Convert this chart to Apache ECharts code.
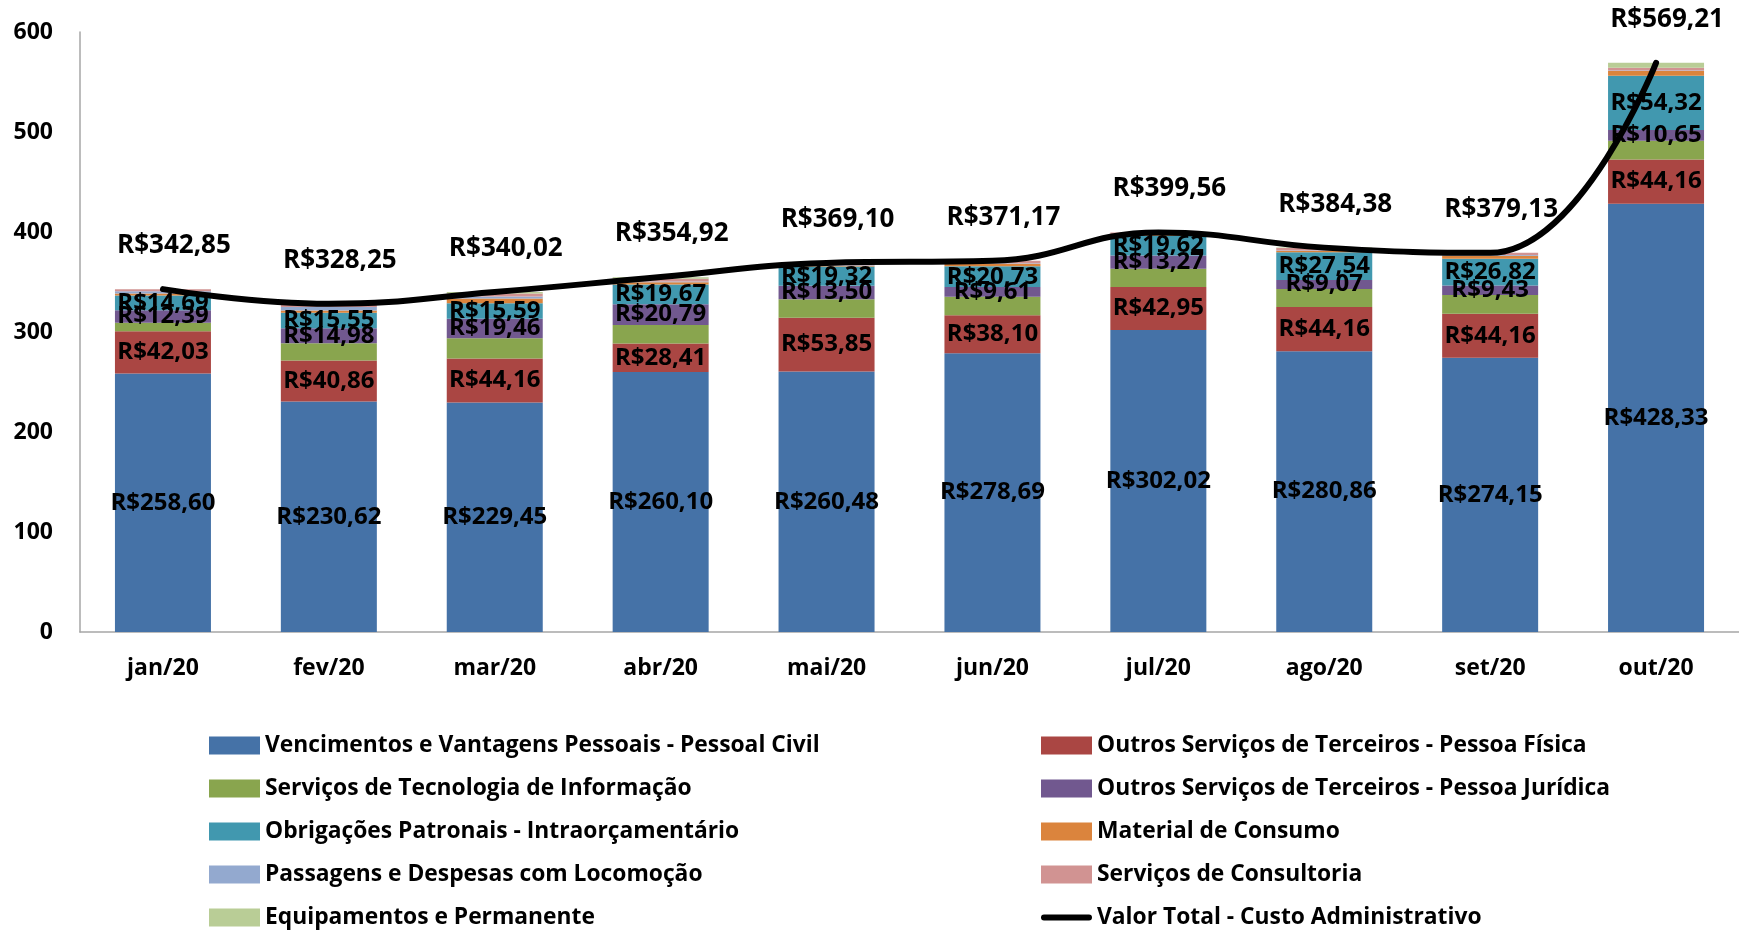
<!DOCTYPE html>
<html>
<head>
<meta charset="utf-8">
<script src="https://cdn.jsdelivr.net/npm/echarts@6/dist/echarts.min.js"></script>
<style>
  html, body { margin: 0; padding: 0; background: #fff; }
  #chart { width: 1739px; height: 932px; }
</style>
</head>
<body>
<div id="chart"></div>
<script>
const months = ['jan/20', 'fev/20', 'mar/20', 'abr/20', 'mai/20', 'jun/20', 'jul/20', 'ago/20', 'set/20', 'out/20']
const vencimentos = [258.60, 230.62, 229.45, 260.10, 260.48, 278.69, 302.02, 280.86, 274.15, 428.33]
const pessoaFisica = [42.03, 40.86, 44.16, 28.41, 53.85, 38.10, 42.95, 44.16, 44.16, 44.16]
const tecnologia = [8.7, 17.2, 20.1, 18.5, 18.4, 18.5, 18.3, 18.0, 18.7, 18.8]
const pessoaJuridica = [12.39, 14.98, 19.46, 20.79, 13.50, 9.61, 13.27, 9.07, 9.43, 10.65]
const obrigacoes = [14.69, 15.55, 15.59, 19.67, 19.32, 20.73, 19.62, 27.54, 26.82, 54.32]
const material = [2.0, 2.3, 4.7, 2.3, 0.8, 2.7, 0.8, 1.3, 3.0, 4.7]
const passagens = [2.4, 3.5, 2.0, 0.8, 0.5, 0.3, 0.3, 0.5, 0.7, 0.5]
const consultoria = [2.0, 2.5, 3.0, 2.6, 1.8, 2.5, 2.3, 2.5, 2.2, 2.7]
const equipamentos = [0.0, 0.7, 1.5, 1.7, 0.5, 0.0, 0.0, 0.5, 0.0, 5.0]
const valorTotal = [342.85, 328.25, 340.02, 354.92, 369.10, 371.17, 399.56, 384.38, 379.13, 569.21]
const yTicks = [0, 100, 200, 300, 400, 500, 600]

const font = 'Open Sans'
const money = v => 'R$' + Number(v).toFixed(2).replace('.', ',')

// label dentro das barras
const inLabel = {
  show: true,
  position: 'inside',
  color: '#000',
  fontFamily: font,
  fontWeight: 'bold',
  fontSize: 24,
  formatter: p => money(p.value)
}

function barSerie (name, data, color, withLabel) {
  return {
    name: name,
    type: 'bar',
    stack: 'total',
    barWidth: 96,
    data: data,
    itemStyle: { color: color },
    label: withLabel ? inLabel : { show: false },
    emphasis: { disabled: true }
  }
}

// traço grosso com pontas redondas (ícone da linha na legenda)
const lineIcon = 'path://M0,0h0.01v0.01h-0.01z M3,6 h45 a3,3 0 0 1 0,6 h-45 a3,3 0 0 1 0,-6 z M0,17.99h0.01v0.01h-0.01z'

const chart = echarts.init(document.getElementById('chart'))
const legendText = { fontFamily: font, fontWeight: 'bold', fontSize: 22.8, color: '#000' }
const legendBase = {
  orient: 'vertical',
  top: 734,
  height: 400,
  padding: 0,
  itemWidth: 51,
  itemHeight: 18,
  itemGap: 20,
  icon: 'rect',
  textStyle: legendText
}

const option = {
  animation: false,
  grid: { left: 80, right: -6, top: 32, bottom: 300 },
  legend: [
    Object.assign({}, legendBase, {
      left: 209,
      data: [
        'Vencimentos e Vantagens Pessoais - Pessoal Civil',
        'Serviços de Tecnologia de Informação',
        'Obrigações Patronais - Intraorçamentário',
        'Passagens e Despesas com Locomoção',
        'Equipamentos e Permanente'
      ]
    }),
    Object.assign({}, legendBase, {
      left: 1041,
      data: [
        'Outros Serviços de Terceiros - Pessoa Física',
        'Outros Serviços de Terceiros - Pessoa Jurídica',
        'Material de Consumo',
        'Serviços de Consultoria',
        { name: 'Valor Total - Custo Administrativo', icon: lineIcon }
      ]
    })
  ],
  xAxis: {
    type: 'category',
    data: months,
    axisLine: { lineStyle: { color: '#a6a6a6', width: 1.5 } },
    axisTick: { show: false },
    axisLabel: { color: '#000', fontFamily: font, fontWeight: 'bold', fontSize: 23, margin: 25 }
  },
  yAxis: {
    type: 'value',
    min: yTicks[0],
    max: yTicks[yTicks.length - 1],
    interval: 100,
    axisLine: { show: true, lineStyle: { color: '#a6a6a6', width: 1.5 } },
    axisTick: { show: false },
    splitLine: { show: false },
    axisLabel: { color: '#000', fontFamily: font, fontWeight: 'bold', fontSize: 23, margin: 27 }
  },
  series: [
    barSerie('Vencimentos e Vantagens Pessoais - Pessoal Civil', vencimentos, '#4572A7', true),
    barSerie('Outros Serviços de Terceiros - Pessoa Física', pessoaFisica, '#AA4643', true),
    barSerie('Serviços de Tecnologia de Informação', tecnologia, '#89A54E', false),
    barSerie('Outros Serviços de Terceiros - Pessoa Jurídica', pessoaJuridica, '#71588F', true),
    barSerie('Obrigações Patronais - Intraorçamentário', obrigacoes, '#4198AF', true),
    barSerie('Material de Consumo', material, '#DB843D', false),
    barSerie('Passagens e Despesas com Locomoção', passagens, '#93A9CF', false),
    barSerie('Serviços de Consultoria', consultoria, '#D19392', false),
    barSerie('Equipamentos e Permanente', equipamentos, '#B9CD96', false),
    {
      name: 'Valor Total - Custo Administrativo',
      type: 'line',
      data: valorTotal,
      smooth: 0.45,
      symbol: 'none',
      z: 10,
      lineStyle: { color: '#000', width: 6, cap: 'round' },
      itemStyle: { color: '#000' },
      emphasis: { disabled: true }
    },
    {
      // só os rótulos do total (sem linha nem símbolo visível)
      name: 'rotulosTotal',
      type: 'line',
      data: valorTotal,
      symbol: 'circle',
      symbolSize: 1,
      showSymbol: true,
      z: 11,
      lineStyle: { width: 0, color: 'rgba(0,0,0,0)' },
      itemStyle: { color: 'rgba(0,0,0,0)' },
      label: {
        show: true,
        position: 'top',
        distance: 30,
        offset: [11, 0],
        color: '#000',
        fontFamily: font,
        fontWeight: 'bold',
        fontSize: 26,
        formatter: p => money(p.value)
      },
      emphasis: { disabled: true }
    }
  ]
}

chart.setOption(option)
</script>
</body>
</html>
